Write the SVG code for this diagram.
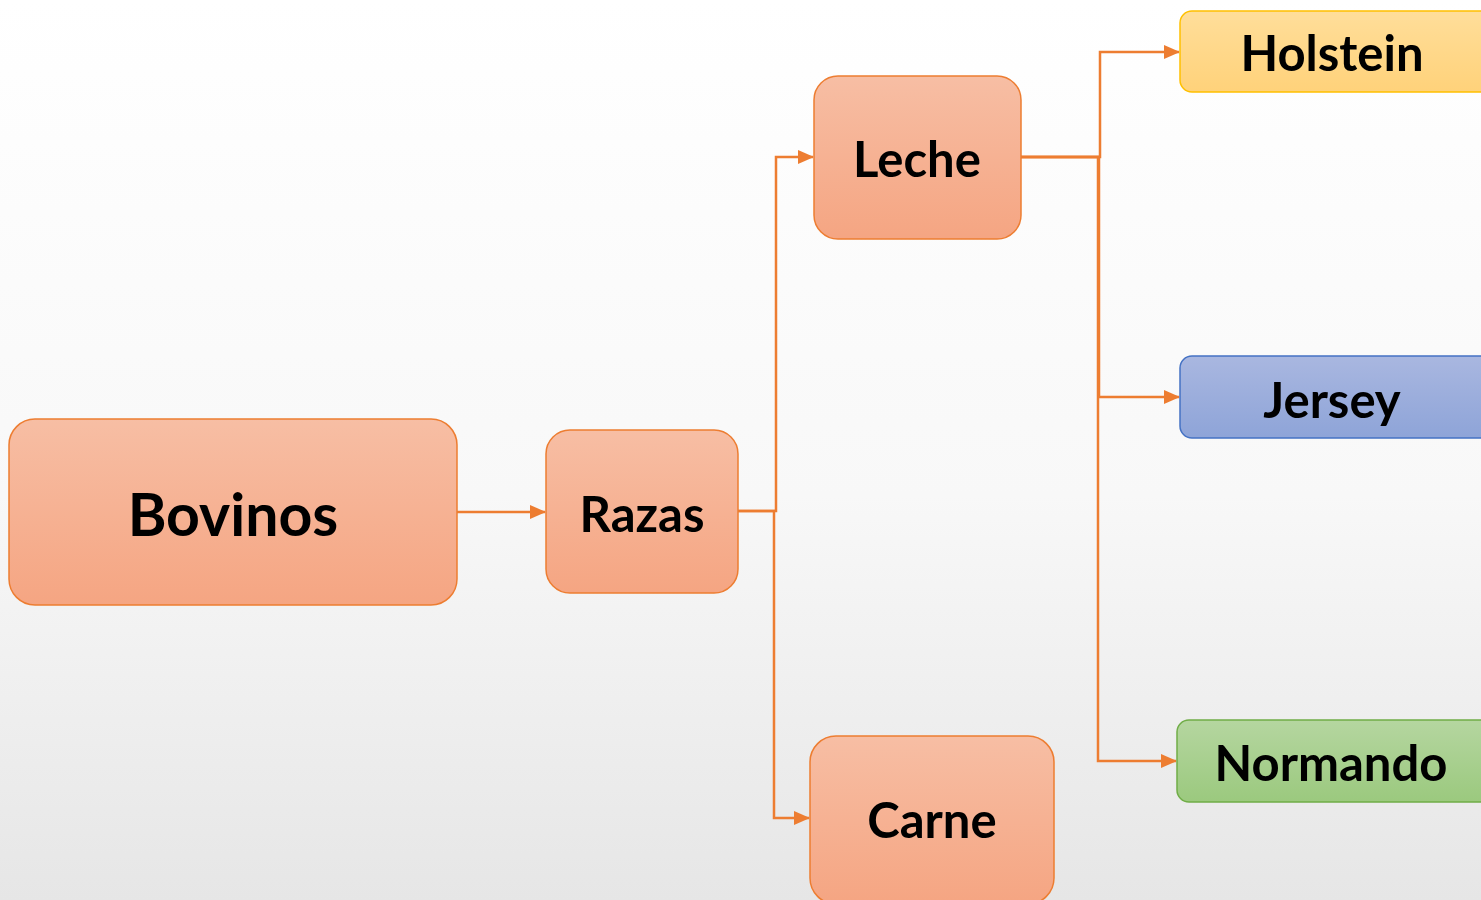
<svg xmlns="http://www.w3.org/2000/svg" width="1481" height="900" viewBox="0 0 1481 900">
  <defs>
    <linearGradient id="bg" x1="0" y1="0" x2="0" y2="1">
      <stop offset="0" stop-color="#ffffff"/>
      <stop offset="0.55" stop-color="#f8f8f8"/>
      <stop offset="1" stop-color="#e6e6e6"/>
    </linearGradient>
    <linearGradient id="gOrange" x1="0" y1="0" x2="0" y2="1">
      <stop offset="0" stop-color="#f7bea4"/>
      <stop offset="1" stop-color="#f5a582"/>
    </linearGradient>
    <linearGradient id="gYellow" x1="0" y1="0" x2="0" y2="1">
      <stop offset="0" stop-color="#ffde9a"/>
      <stop offset="1" stop-color="#ffd27a"/>
    </linearGradient>
    <linearGradient id="gBlue" x1="0" y1="0" x2="0" y2="1">
      <stop offset="0" stop-color="#a9b7e0"/>
      <stop offset="1" stop-color="#8ea4d8"/>
    </linearGradient>
    <linearGradient id="gGreen" x1="0" y1="0" x2="0" y2="1">
      <stop offset="0" stop-color="#b5d6a0"/>
      <stop offset="1" stop-color="#9bc97e"/>
    </linearGradient>
    <marker id="arrow" viewBox="0 0 16 14" refX="15" refY="7" markerWidth="16" markerHeight="14" markerUnits="userSpaceOnUse" orient="auto">
      <path d="M0,0 L16,7 L0,14 Z" fill="#ed7d31"/>
    </marker>
    <style>
      .lbl { font-family: "Lato", "Open Sans", "Liberation Sans", sans-serif; font-weight: bold; fill: #000; text-anchor: middle; dominant-baseline: central; }
      .or { fill: url(#gOrange); stroke: #ed7d31; stroke-width: 1.5; }
      .conn { fill: none; stroke: #ed7d31; stroke-width: 2.5; marker-end: url(#arrow); }
    </style>
  </defs>

  <rect width="1481" height="900" fill="url(#bg)"/>

  <g id="connectors">
    <path class="conn" d="M457,512 H545"/>
    <path class="conn" d="M738,511 H776 V157 H813"/>
    <path class="conn" d="M738,511 H774 V818 H809"/>
    <path class="conn" d="M1021,157 H1100 V52 H1179"/>
    <path class="conn" d="M1021,157 H1099 V397 H1179"/>
    <path class="conn" d="M1021,157 H1098 V761 H1176"/>
  </g>

  <g id="bovinos">
    <rect class="or" x="9" y="419" width="448" height="186" rx="26"/>
    <text class="lbl" x="233" y="513" font-size="59">Bovinos</text>
  </g>
  <g id="razas">
    <rect class="or" x="546" y="430" width="192" height="163" rx="24"/>
    <text class="lbl" x="642" y="513" font-size="49">Razas</text>
  </g>
  <g id="leche">
    <rect class="or" x="814" y="76" width="207" height="163" rx="24"/>
    <text class="lbl" x="917" y="158" font-size="49">Leche</text>
  </g>
  <g id="carne">
    <rect class="or" x="810" y="736" width="244" height="168" rx="26"/>
    <text class="lbl" x="932" y="819" font-size="49">Carne</text>
  </g>
  <g id="holstein">
    <rect x="1180" y="11" width="320" height="81" rx="12" fill="url(#gYellow)" stroke="#ffc000" stroke-width="1.5"/>
    <text class="lbl" x="1332" y="52" font-size="49">Holstein</text>
  </g>
  <g id="jersey">
    <rect x="1180" y="356" width="320" height="82" rx="12" fill="url(#gBlue)" stroke="#4472c4" stroke-width="1.5"/>
    <text class="lbl" x="1332" y="399" font-size="49">Jersey</text>
  </g>
  <g id="normando">
    <rect x="1177" y="720" width="320" height="82" rx="12" fill="url(#gGreen)" stroke="#70ad47" stroke-width="1.5"/>
    <text class="lbl" x="1331" y="762" font-size="49">Normando</text>
  </g>
</svg>
